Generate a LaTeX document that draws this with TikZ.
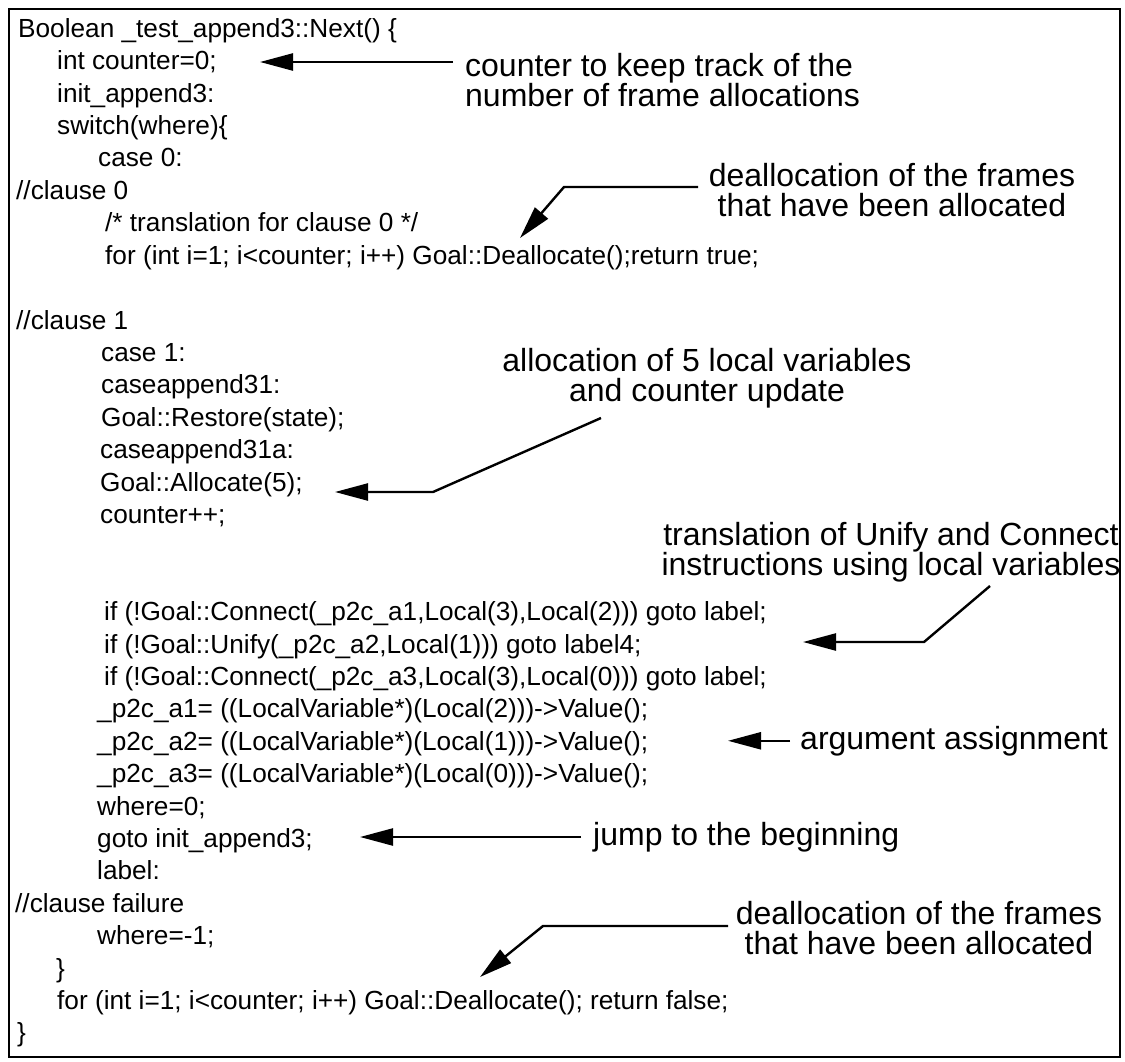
\documentclass[tikz,border=0pt]{standalone}
\usepackage{fontspec}
\setmainfont{Liberation Sans}
\usetikzlibrary{arrows.meta}
\begin{document}
\begin{tikzpicture}[x=1pt,y=-1pt,
  code/.style={anchor=base west, inner sep=0pt, font=\fontsize{26.2}{31}\selectfont},
  note/.style={anchor=base, inner sep=0pt, font=\fontsize{32}{36}\selectfont},
  noteleft/.style={note, anchor=base west},
  pointer/.style={line width=2.4pt, line join=miter, -{Triangle[length=33pt,width=17pt]}},
]
\useasboundingbox (0,0) rectangle (1125,1062);
\draw[line width=2pt] (8.5,9.5) rectangle (1120,1057);

% program listing
\node[code] (l0)  at (18,37.4)   {Boolean \_test\_append3::Next() \{};
\node[code] (l1)  at (57,69.8)   {int counter=0;};
\node[code] (l2)  at (57,102.2)  {init\_append3:};
\node[code] (l3)  at (57,134.6)  {switch(where)\{};
\node[code] (l4)  at (98,167.0)  {case 0:};
\node[code] (l5)  at (16,199.4)  {//clause 0};
\node[code] (l6)  at (105,231.8) {/* translation for clause 0 */};
\node[code] (l7)  at (105,264.2) {for (int i=1; i<counter; i++) Goal::Deallocate();return true;};
\node[code] (l9)  at (16,329.0)  {//clause 1};
\node[code] (l10) at (101,361.4) {case 1:};
\node[code] (l11) at (101,393.8) {caseappend31:};
\node[code] (l12) at (101,426.2) {Goal::Restore(state);};
\node[code] (l13) at (100,458.6) {caseappend31a:};
\node[code] (l14) at (100,491.0) {Goal::Allocate(5);};
\node[code] (l15) at (100,523.4) {counter++;};
\node[code] (l18) at (104,620.6) {if (!Goal::Connect(\_p2c\_a1,Local(3),Local(2))) goto label;};
\node[code] (l19) at (104,653.0) {if (!Goal::Unify(\_p2c\_a2,Local(1))) goto label4;};
\node[code] (l20) at (104,685.4) {if (!Goal::Connect(\_p2c\_a3,Local(3),Local(0))) goto label;};
\node[code] (l21) at (97,717.8)  {\_p2c\_a1= ((LocalVariable*)(Local(2)))->Value();};
\node[code] (l22) at (97,750.2)  {\_p2c\_a2= ((LocalVariable*)(Local(1)))->Value();};
\node[code] (l23) at (97,782.6)  {\_p2c\_a3= ((LocalVariable*)(Local(0)))->Value();};
\node[code] (l24) at (97,815.0)  {where=0;};
\node[code] (l25) at (97,847.4)  {goto init\_append3;};
\node[code] (l26) at (97,879.8)  {label:};
\node[code] (l27) at (15,912.2)  {//clause failure};
\node[code] (l28) at (97,944.6)  {where=-1;};
\node[code] (l29) at (56,977.0)  {\}};
\node[code] (l30) at (57,1009.4) {for (int i=1; i<counter; i++) Goal::Deallocate(); return false;};
\node[code] (l31) at (17,1041.8) {\}};

% annotations
\node[noteleft] (n1a) at (465,77)  {counter to keep track of the};
\node[noteleft] (n1b) at (465,107) {number of frame allocations};
\coordinate (s1) at (453,62);
\coordinate (t1) at (260,62);
\draw[pointer] (s1) -- (t1);

\node[note] (n2a) at (892,186) {deallocation of the frames};
\node[note] (n2b) at (892,216) {that have been allocated};
\coordinate (s2) at (698,187);
\coordinate (c2) at (564,187);
\coordinate (t2) at (520,238);
\draw[pointer] (s2) -- (c2) -- (t2);

\node[note] (n3a) at (707,371) {allocation of 5 local variables};
\node[note] (n3b) at (707,401) {and counter update};
\coordinate (s3) at (601,418);
\coordinate (c3) at (433,492);
\coordinate (t3) at (335,492);
\draw[pointer] (s3) -- (c3) -- (t3);

\node[note] (n4a) at (891,545) {translation of Unify and Connect};
\node[note] (n4b) at (891,575) {instructions using local variables};
\coordinate (s4) at (990,586);
\coordinate (c4) at (924,642);
\coordinate (t4) at (803,642);
\draw[pointer] (s4) -- (c4) -- (t4);

\node[noteleft] (n5) at (800,749) {argument assignment};
\coordinate (s5) at (790,740.8);
\coordinate (t5) at (728,740.8);
\draw[pointer] (s5) -- (t5);

\node[noteleft] (n6) at (593,845) {jump to the beginning};
\coordinate (s6) at (581,837);
\coordinate (t6) at (360,837);
\draw[pointer] (s6) -- (t6);

\node[note] (n7a) at (919,924) {deallocation of the frames};
\node[note] (n7b) at (919,954) {that have been allocated};
\coordinate (s7) at (728,926);
\coordinate (c7) at (543,926);
\coordinate (t7) at (480,977);
\draw[pointer] (s7) -- (c7) -- (t7);
\end{tikzpicture}
\end{document}
